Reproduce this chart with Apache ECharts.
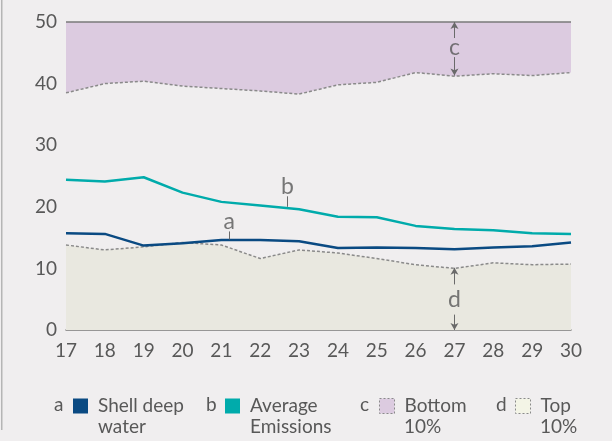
<!DOCTYPE html>
<html>
<head>
<meta charset="utf-8">
<script src="https://cdn.jsdelivr.net/npm/echarts@6/dist/echarts.min.js"></script>
<style>
    html, body { margin: 0; padding: 0; background: #f0eeef; }
    #chart { width: 612px; height: 441px; }
</style>
</head>
<body>
<div id="chart"></div>
<script>
// data
const years = [17, 18, 19, 20, 21, 22, 23, 24, 25, 26, 27, 28, 29, 30]
const shellDeep = [15.7, 15.6, 13.7, 14.1, 14.6, 14.6, 14.4, 13.3, 13.4, 13.3, 13.1, 13.4, 13.6, 14.2]
const averageEm = [24.4, 24.1, 24.8, 22.3, 20.8, 20.2, 19.6, 18.4, 18.3, 16.9, 16.4, 16.2, 15.7, 15.6]
const bottom10 = [38.5, 40.0, 40.4, 39.6, 39.2, 38.8, 38.3, 39.8, 40.2, 41.8, 41.2, 41.6, 41.3, 41.8]
const top10 = [13.8, 13.0, 13.5, 14.2, 13.8, 11.6, 13.0, 12.5, 11.6, 10.6, 10.0, 10.9, 10.6, 10.7]
const yTicks = [0, 10, 20, 30, 40, 50]

// legend: letter, first line, second line
const legendLetters = ['a', 'b', 'c', 'd']
const legendFirst = ['Shell deep', 'Average', 'Bottom', 'Top']
const legendSecond = ['water', 'Emissions', '10%', '10%']

// labels a, b, c, d: [x, y, text]
const notes = [[21.2, 17.6, 'a'], [22.7, 23.3, 'b'], [27, 45.9, 'c'], [27, 5.0, 'd']]
// small leader lines under a and b
const leaders = [[[21.2, 16.0], [21.2, 14.7]], [[22.7, 21.7], [22.7, 20.0]]]
// arrows for c and d: [from, to]
const arrows = [
    [[27, 47.4], [27, 50]],
    [[27, 44.3], [27, 41.3]],
    [[27, 7.4], [27, 10.1]],
    [[27, 2.5], [27, 0]],
]

const pairs = function (values) {
    return years.map((y, i) => [y, values[i]])
}

const gray = '#585858'
const font = 'Lato, "Noto Sans", sans-serif'
const legendLeft = [73, 225, 379, 515]
const legendStyles = [
    { color: '#0a4a82' },
    { color: '#00abab' },
    { color: '#dccbe0', borderColor: '#8a8a8a', borderWidth: 1, borderType: [2, 2] },
    { color: '#f3f4e6', borderColor: '#8a8a8a', borderWidth: 1, borderType: [2, 2] },
]

const legendItem = function (i) {
    return {
        left: legendLeft[i],
        top: 395,
        padding: 0,
        icon: 'rect',
        itemWidth: 15,
        itemHeight: 15,
        selectedMode: false,
        data: [{ name: legendFirst[i], itemStyle: legendStyles[i] }],
        textStyle: {
            color: gray,
            fontSize: 19,
            fontFamily: font,
            lineHeight: 22,
            padding: [0, 0, 0, 5],
        },
    }
}

const legendTexts = function (i) {
    return [
        {
            type: 'text',
            left: legendLeft[i] - 19,
            top: 395,
            style: { text: legendLetters[i], fill: gray, fontSize: 19, fontFamily: font },
        },
        {
            type: 'text',
            left: legendLeft[i] + 25,
            top: 417,
            style: { text: legendSecond[i], fill: gray, fontSize: 19, fontFamily: font },
        },
    ]
}

const chart = echarts.init(document.getElementById('chart'))
const option = {
    backgroundColor: '#f0eeef',
    animation: false,
    grid: { left: 66, right: 41, top: 22, bottom: 111 },
    xAxis: {
        type: 'value',
        min: 17,
        max: 30,
        interval: 1,
        axisLine: { show: true, onZero: false, lineStyle: { color: '#7a7a7a', width: 1.5 } },
        axisTick: { show: false },
        splitLine: { show: false },
        axisLabel: { color: gray, fontSize: 19, fontFamily: font, margin: 11 },
    },
    yAxis: {
        type: 'value',
        min: yTicks[0],
        max: yTicks[yTicks.length - 1],
        interval: 10,
        axisLine: { show: false },
        axisTick: { show: false },
        splitLine: { show: false },
        axisLabel: { color: gray, fontSize: 19, fontFamily: font, margin: 9 },
    },
    legend: [0, 1, 2, 3].map(legendItem),
    graphic: [
        { type: 'rect', shape: { x: 1, y: 0, width: 1.5, height: 430 }, style: { fill: '#b5b5b5' } },
    ].concat(...[0, 1, 2, 3].map(legendTexts)),
    series: [
        {
            name: 'Bottom',
            type: 'line',
            data: pairs(bottom10),
            symbol: 'none',
            lineStyle: { color: '#8a8a8a', width: 1.5, type: [3, 2] },
            itemStyle: { color: '#dccbe0' },
            areaStyle: { color: '#dccbe0', opacity: 1, origin: 'end' },
            markLine: {
                silent: true,
                symbol: 'none',
                label: { show: false },
                lineStyle: { color: '#7a7a7a', width: 1.5, type: 'solid' },
                data: [{ yAxis: 50 }],
            },
            z: 1,
        },
        {
            name: 'Top',
            type: 'line',
            data: pairs(top10),
            symbol: 'none',
            lineStyle: { color: '#8a8a8a', width: 1.5, type: [3, 2] },
            itemStyle: { color: '#f3f4e6' },
            areaStyle: { color: '#e9e8e0', opacity: 1, origin: 'start' },
            z: 1,
        },
        {
            name: 'Shell deep',
            type: 'line',
            data: pairs(shellDeep),
            symbol: 'none',
            lineStyle: { color: '#0a4a82', width: 2.5 },
            itemStyle: { color: '#0a4a82' },
            z: 3,
        },
        {
            name: 'Average',
            type: 'line',
            data: pairs(averageEm),
            symbol: 'none',
            lineStyle: { color: '#00abab', width: 2.5 },
            itemStyle: { color: '#00abab' },
            z: 3,
        },
        {
            name: 'notes',
            type: 'scatter',
            data: notes,
            symbolSize: 0,
            silent: true,
            label: {
                show: true,
                position: 'inside',
                formatter: p => p.value[2],
                color: gray,
                fontSize: 23,
                fontFamily: font,
            },
            markLine: {
                silent: true,
                symbol: 'none',
                label: { show: false },
                lineStyle: { color: '#6a6a6a', width: 1, type: 'solid' },
                data: leaders.map(l => [{ coord: l[0] }, { coord: l[1] }]).concat(
                    arrows.map(a => [{ coord: a[0], symbol: 'none' }, { coord: a[1], symbol: 'arrow', symbolSize: [6, 7] }])
                ),
            },
            z: 4,
        },
    ],
}
chart.setOption(option)
</script>
</body>
</html>
